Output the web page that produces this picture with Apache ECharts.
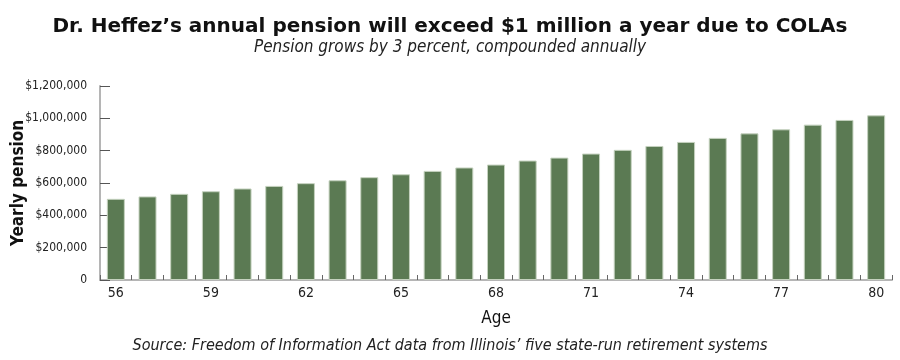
<!DOCTYPE html>
<html>
<head>
<meta charset="utf-8">
<script src="https://cdn.jsdelivr.net/npm/echarts@6/dist/echarts.min.js"></script>
<style>
html,body{margin:0;padding:0;background:#fff;}
#chart{width:900px;height:360px;}
</style>
</head>
<body>
<div id="chart"></div>
<script>
const ages = ['56','57','58','59','60','61','62','63','64','65','66','67','68','69','70','71','72','73','74','75','76','77','78','79','80'];
const pension = [502000,517000,533000,549000,566000,582000,599000,617000,636000,654000,675000,696000,714000,739000,757000,782000,805000,829000,854000,879000,907000,932000,961000,990000,1018500];
const yTicks = [0,200000,400000,600000,800000,1000000,1200000];

const chart = echarts.init(document.getElementById('chart'));
const narrow = '"DejaVu Sans Condensed", "Liberation Sans Narrow", sans-serif';
function fmt(v){
  if (v === 0) return '0';
  return '$' + v.toString().replace(/\B(?=(\d{3})+(?!\d))/g, ',');
}
chart.setOption({
  animation: false,
  title: [
    {text: 'Dr. Heffez\u2019s annual pension will exceed $1 million a year due to COLAs', left: 'center', top: 12,
     textStyle: {fontFamily: '"DejaVu Sans", sans-serif', fontWeight: 'bold', fontSize: 20, color: '#111'}},
    {text: 'Pension grows by 3 percent, compounded annually', left: 'center', top: 34,
     textStyle: {fontFamily: narrow, fontStyle: 'italic', fontWeight: 'normal', fontSize: 17, color: '#222'}},
    {text: 'Source: Freedom of Information Act data from Illinois\u2019 five state-run retirement systems', left: 'center', top: 333,
     textStyle: {fontFamily: narrow, fontStyle: 'italic', fontWeight: 'normal', fontSize: 16, color: '#222'}}
  ],
  grid: {left: 100, right: 8, top: 86, bottom: 80, outerBoundsMode: 'none'},
  xAxis: {
    type: 'category',
    data: ages,
    name: 'Age',
    nameLocation: 'middle',
    nameGap: 30,
    nameMoveOverlap: false,
    nameTextStyle: {fontFamily: narrow, fontSize: 17, color: '#111'},
    axisLine: {lineStyle: {color: '#b5b5b5', width: 2}},
    axisTick: {show: true, inside: true, length: 5, interval: 0, lineStyle: {color: '#666', width: 1}},
    axisLabel: {interval: 2, fontFamily: narrow, fontSize: 14, color: '#222', margin: 6}
  },
  yAxis: {
    type: 'value',
    min: 0, max: 1200000, interval: 200000,
    name: 'Yearly pension',
    nameLocation: 'middle',
    nameGap: 73,
    nameMoveOverlap: false,
    nameTextStyle: {fontFamily: narrow, fontSize: 17, fontWeight: 'bold', color: '#111'},
    axisLine: {show: true, lineStyle: {color: '#b5b5b5', width: 2}},
    axisTick: {show: true, inside: true, length: 10, lineStyle: {color: '#555', width: 1}},
    splitLine: {show: false},
    axisLabel: {fontFamily: narrow, fontSize: 12, color: '#222', margin: 13,
      formatter: function(v){ return yTicks.indexOf(v) >= 0 ? fmt(v) : ''; }}
  },
  series: [{
    type: 'bar',
    data: pension,
    barWidth: 18,
    itemStyle: {color: '#5b7a53', borderColor: '#c5d2bf', borderWidth: 1}
  }]
});
</script>
</body>
</html>
